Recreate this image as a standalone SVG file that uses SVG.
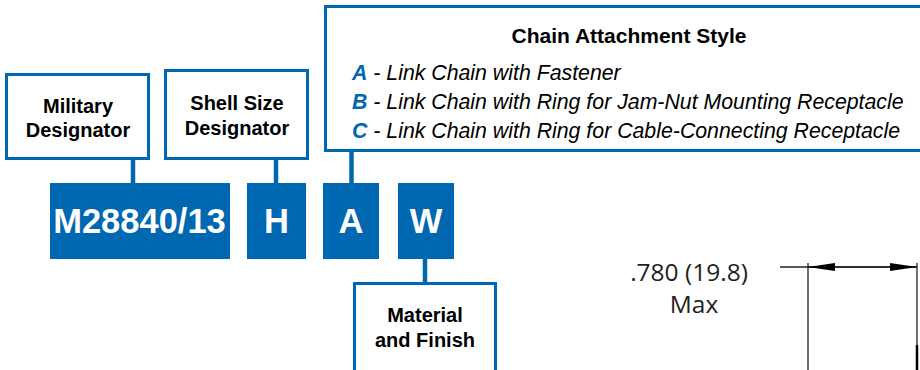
<svg xmlns="http://www.w3.org/2000/svg" width="920" height="370" viewBox="0 0 920 370">
<defs>
<style>
.box{fill:#fff;stroke:#0067b1;stroke-width:3}
.blk{fill:#0067b1}
.lbl{font-family:"Liberation Sans",Arial,sans-serif;font-weight:bold;font-size:20px;fill:#000;text-anchor:middle}
.code{font-family:"Liberation Sans",Arial,sans-serif;font-weight:bold;font-size:34.5px;fill:#fff;text-anchor:middle}
.opt{font-family:"Liberation Sans",Arial,sans-serif;font-style:italic;font-size:21.3px;fill:#000}
.key{font-weight:bold;fill:#0067b1}
.conn{stroke:#0067b1;stroke-width:4.5;fill:none}
.dim{stroke:#231f20;stroke-width:1.3;fill:none}
.dimt{font-family:"Open Sans","Noto Sans",sans-serif;font-size:24.5px;fill:#231f20;text-anchor:middle}
</style>
<marker id="arr" viewBox="0 0 27 8" refX="27" refY="4" markerWidth="27" markerHeight="8" markerUnits="userSpaceOnUse" orient="auto">
<path d="M0,0 L27,4 L0,8 Z" fill="#000"/>
</marker>
</defs>
<g id="connectors">
<line class="conn" x1="133" y1="159" x2="133" y2="184"/>
<line class="conn" x1="276" y1="159" x2="276" y2="184"/>
<line class="conn" x1="351.5" y1="151" x2="351.5" y2="184"/>
<line class="conn" x1="425" y1="258" x2="425" y2="283"/>
</g>
<g id="military-designator">
<rect class="box" x="6.5" y="74.5" width="142" height="84"/>
<text class="lbl" x="78" y="113">Military</text>
<text class="lbl" x="78" y="137">Designator</text>
</g>
<g id="shell-size-designator">
<rect class="box" x="165.5" y="70.5" width="142" height="88"/>
<text class="lbl" x="237" y="110">Shell Size</text>
<text class="lbl" x="237" y="135">Designator</text>
</g>
<g id="chain-attachment-style">
<rect class="box" x="325.5" y="6.5" width="610" height="144"/>
<text class="lbl" x="629" y="43" style="font-size:21px">Chain Attachment Style</text>
<text class="opt" x="352" y="80"><tspan class="key">A</tspan> - Link Chain with Fastener</text>
<text class="opt" x="352" y="109"><tspan class="key">B</tspan> - Link Chain with Ring for Jam-Nut Mounting Receptacle</text>
<text class="opt" x="352" y="138"><tspan class="key">C</tspan> - Link Chain with Ring for Cable-Connecting Receptacle</text>
</g>
<g id="code-m28840">
<rect class="blk" x="50" y="183" width="180" height="76"/>
<text class="code" x="139.5" y="233">M28840/13</text>
</g>
<g id="code-h">
<rect class="blk" x="247" y="183" width="59" height="76"/>
<text class="code" x="276.5" y="233">H</text>
</g>
<g id="code-a">
<rect class="blk" x="323" y="183" width="56" height="76"/>
<text class="code" x="351" y="233">A</text>
</g>
<g id="code-w">
<rect class="blk" x="398" y="183" width="56" height="76"/>
<text class="code" x="426" y="233">W</text>
</g>
<g id="material-and-finish">
<rect class="box" x="354.5" y="283.5" width="141" height="100"/>
<text class="lbl" x="425" y="322">Material</text>
<text class="lbl" x="425" y="347">and Finish</text>
</g>
<g id="dimension">
<line class="dim" x1="780" y1="267" x2="917" y2="267"/>
<line class="dim" x1="862" y1="267" x2="808" y2="267" marker-end="url(#arr)"/>
<line class="dim" x1="862" y1="267" x2="917" y2="267" marker-end="url(#arr)"/>
<line class="dim" x1="808" y1="263" x2="808" y2="370"/>
<line class="dim" x1="917" y1="263" x2="917" y2="370"/>
<line stroke="#000" stroke-width="2.5" x1="917" y1="345" x2="917" y2="370"/>
<text class="dimt" x="689" y="281">.780 (19.8)</text>
<text class="dimt" x="694" y="313">Max</text>
</g>
</svg>
